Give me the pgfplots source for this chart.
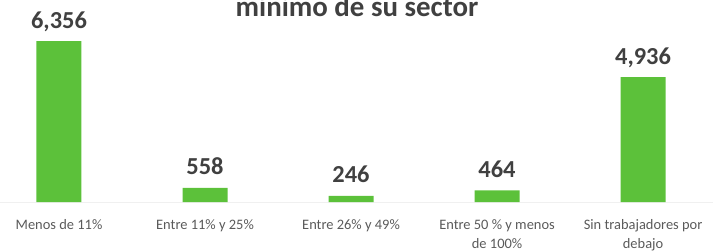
\documentclass[border=0pt]{standalone}
\usepackage{pgfplots}
\pgfplotsset{compat=1.18}
\usepackage{fontspec}
\setmainfont{Carlito}
\definecolor{bargreen}{HTML}{5CC13A}
\definecolor{txtgray}{HTML}{404040}
\definecolor{lblgray}{HTML}{5A5A5A}
\begin{document}
\begin{tikzpicture}[x=1bp,y=1bp]
\begin{axis}[
  name=ax,
  scale only axis,
  width=713bp, height=202bp,
  xmin=-0.404, xmax=4.479,
  ymin=0, ymax=7980,
  ybar, bar width=45bp,
  axis x line*=bottom,
  axis y line=none,
  x axis line style={draw=black!6},
  xtick={0,1,2,3,4},
  xticklabels={Menos de 11\%, Entre 11\% y 25\%, Entre 26\% y 49\%, {Entre 50 \% y menos\\de 100\%}, {Sin trabajadores por\\debajo}},
  xticklabel style={align=center, font=\fontsize{14.5}{19}\selectfont, text=lblgray, inner sep=0pt, yshift=-13bp},
  xtick style={draw=none},
  nodes near coords={\pgfmathprintnumber[fixed, 1000 sep={,}, assume math mode=true]{\pgfplotspointmeta}},
  nodes near coords style={font=\bfseries\fontsize{24.5}{24.5}\selectfont, text=txtgray, anchor=base, inner sep=0pt, yshift=13bp},
  point meta=explicit,
  clip=false,
]
\addplot[fill=bargreen, draw=none] coordinates {(0,6356)[6356] (1,558)[558] (2,246)[246] (3,464)[464] (4,4936)[4936]};
\end{axis}
\node[font=\bfseries\fontsize{29}{29}\selectfont, text=txtgray, anchor=base, inner sep=0pt] at ([shift={(357,186)}]ax.south west) {mínimo de su sector};
\pgfresetboundingbox
\path[use as bounding box] ([shift={(0,-48)}]ax.south west) rectangle ([shift={(713,202)}]ax.south west);
\end{tikzpicture}
\end{document}
